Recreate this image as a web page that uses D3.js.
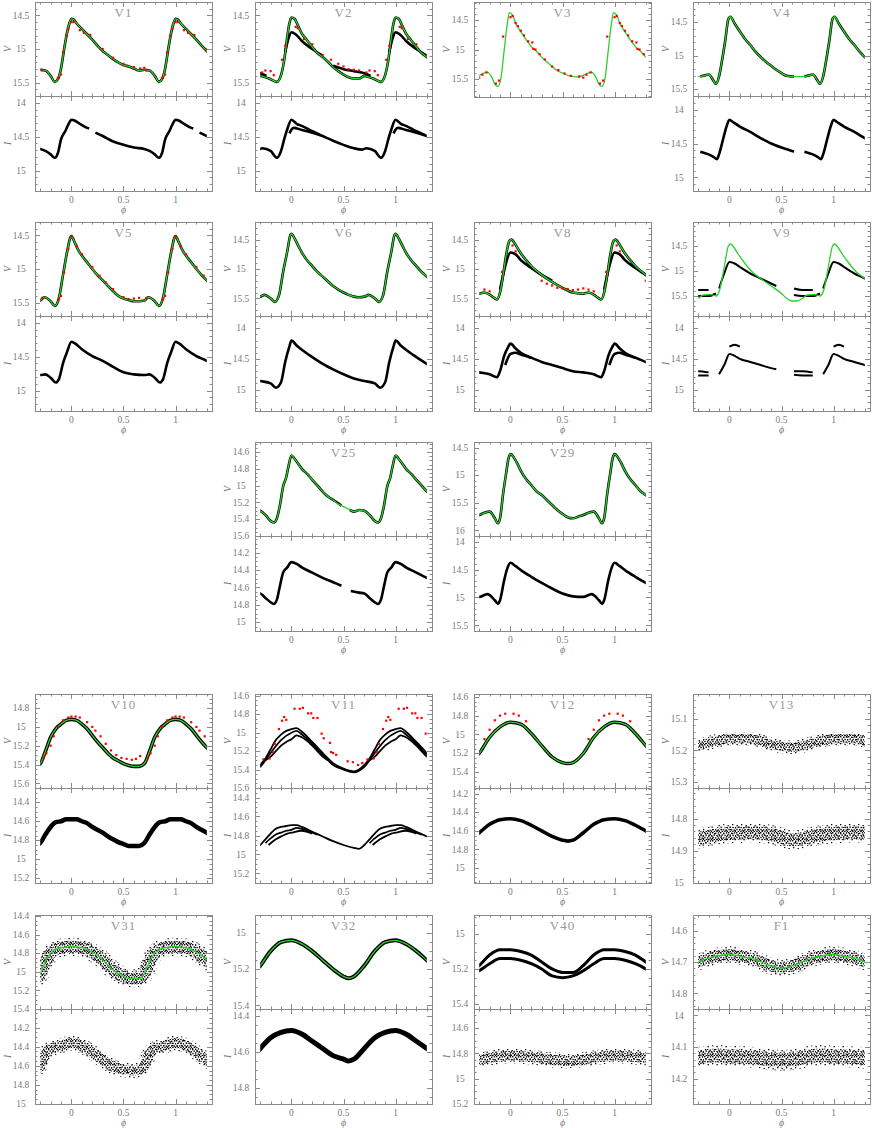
<!DOCTYPE html>
<html>
<head>
<meta charset="utf-8">
<script src="https://d3js.org/d3.v7.min.js"></script>
<style>
  body { margin: 0; background: #fff; }
  text { font-family: "Liberation Serif", "DejaVu Serif", serif; fill: #7a7a7a; }
</style>
</head>
<body>
<div id="chart"></div>
<script>
// ---- light curve data: [phase, mag], one cycle each, null = gap ----
const v1V = [[-0.16,15.49],[-0.13,15.45],[-0.1,15.29],[-0.07,15.0],[-0.05,14.82],[-0.02,14.62],[0,14.55],[0.02,14.56],[0.05,14.62],[0.1,14.7],[0.15,14.78],[0.2,14.86],[0.25,14.95],[0.3,15.03],[0.35,15.09],[0.4,15.15],[0.45,15.2],[0.5,15.24],[0.55,15.26],[0.6,15.29],[0.65,15.32],[0.7,15.31],[0.75,15.32],[0.8,15.4]];
const v1Red = [[-0.28,15.32],[-0.13,15.43],[-0.1,15.38],[-0.08,15.05],[-0.05,14.8],[-0.03,14.7],[0,14.6],[0.02,14.6],[0.08,14.72],[0.12,14.76],[0.18,14.79],[0.3,15.0],[0.4,15.13],[0.5,15.22],[0.6,15.27],[0.66,15.29],[0.7,15.28]];
const v1I = [[-0.16,14.81],[-0.13,14.74],[-0.1,14.54],[-0.06,14.42],[-0.03,14.32],[0,14.25],[0.03,14.26],[0.08,14.31],[0.15,14.37],[0.17,14.38],[0.2,null],[0.23,14.44],[0.3,14.49],[0.4,14.57],[0.5,14.62],[0.6,14.66],[0.7,14.68],[0.75,14.71],[0.8,14.76]];

const v2V = [[-0.14,15.49],[-0.1,15.39],[-0.07,15.17],[-0.04,14.82],[-0.02,14.62],[0,14.53],[0.03,14.55],[0.06,14.64],[0.1,14.77],[0.15,14.87],[0.2,14.97],[0.25,15.06],[0.3,15.12],[0.35,15.19],[0.4,15.27],[0.45,15.33],[0.5,15.38],[0.55,15.42],[0.6,15.44],[0.65,15.44],[0.7,15.4],[0.75,15.42],[0.8,15.45]];
const v2V2 = [[-0.06,15.05],[-0.03,14.85],[0,14.75],[0.04,14.78],[0.1,14.88],[0.2,15.0],[0.3,15.1],[0.35,null],[0.4,15.25],[0.5,15.3],[0.6,15.33],[0.7,15.36],[0.76,15.4],[0.85,null]];
const v2Red = [[-0.28,15.35],[-0.25,15.32],[-0.2,15.33],[-0.17,15.39],[-0.09,15.16],[-0.06,14.95],[0.04,14.67],[0.06,14.69],[0.12,14.85],[0.2,14.93],[0.3,15.09],[0.38,15.16],[0.45,15.22],[0.5,15.26],[0.55,15.3],[0.6,15.31],[0.65,15.32]];
const v2I = [[-0.14,14.81],[-0.1,14.71],[-0.07,14.54],[-0.04,14.39],[0,14.25],[0.05,14.31],[0.1,14.34],[0.2,14.42],[0.3,14.49],[0.4,14.56],[0.5,14.62],[0.6,14.67],[0.68,14.69],[0.72,14.67],[0.8,14.71]];
const v2I2 = [[-0.02,14.45],[0.02,14.37],[0.1,14.4],[0.2,14.44],[0.28,14.48],[0.32,null]];

const v3V = [[-0.12,15.63],[-0.09,15.47],[-0.06,15.01],[-0.03,14.56],[-0.01,14.37],[0.02,14.41],[0.05,14.55],[0.1,14.7],[0.15,14.83],[0.2,14.95],[0.25,15.03],[0.3,15.13],[0.35,15.21],[0.4,15.29],[0.45,15.36],[0.5,15.4],[0.55,15.44],[0.6,15.46],[0.65,15.47],[0.7,15.44],[0.75,15.4],[0.78,15.39],[0.82,15.47],[0.85,15.59]];
const v3Red = [[-0.3,15.48],[-0.27,15.43],[-0.23,15.39],[-0.14,15.58],[-0.11,15.53],[-0.07,14.78],[0,14.45],[0.02,14.43],[0.05,14.55],[0.07,14.6],[0.1,14.68],[0.13,14.76],[0.17,14.86],[0.21,14.88],[0.22,14.99],[0.24,15.0],[0.28,15.08],[0.33,15.17],[0.4,15.29],[0.46,15.35],[0.52,15.41],[0.58,15.45],[0.66,15.46]];

const v4V = [[-0.13,15.42],[-0.1,15.31],[-0.07,15.06],[-0.04,14.77],[-0.01,14.45],[0.01,14.42],[0.05,14.52],[0.1,14.64],[0.15,14.75],[0.2,14.84],[0.25,14.94],[0.3,15.02],[0.35,15.09],[0.4,15.15],[0.45,15.21],[0.5,15.26],[0.55,15.3],[0.6,15.31],[0.62,15.31],[0.65,null],[0.72,15.31],[0.75,15.3],[0.8,15.28],[0.85,15.38]];
const v4I = [[-0.12,14.73],[-0.1,14.66],[-0.06,14.43],[-0.03,14.26],[0,14.15],[0.03,14.18],[0.1,14.25],[0.2,14.33],[0.3,14.42],[0.4,14.5],[0.5,14.56],[0.6,14.61],[0.62,14.62],[0.67,null],[0.72,14.62],[0.8,14.66],[0.85,14.7]];

const v5V = [[-0.16,15.55],[-0.12,15.43],[-0.08,15.08],[-0.04,14.73],[-0.01,14.53],[0,14.51],[0.03,14.6],[0.07,14.73],[0.1,14.8],[0.15,14.9],[0.2,15.0],[0.25,15.09],[0.3,15.17],[0.35,15.25],[0.4,15.33],[0.45,15.4],[0.5,15.44],[0.55,15.46],[0.6,15.48],[0.65,15.48],[0.7,15.47],[0.74,15.42],[0.8,15.48]];
const v5Red = [[-0.28,15.43],[-0.12,15.45],[-0.1,15.4],[-0.07,15.05],[-0.03,14.7],[0,14.52],[0.05,14.66],[0.1,14.78],[0.2,14.97],[0.27,15.1],[0.33,15.2],[0.4,15.3],[0.5,15.42],[0.55,15.45],[0.6,15.44],[0.65,15.43]];
const v5I = [[-0.15,14.88],[-0.12,14.83],[-0.08,14.59],[-0.04,14.42],[0,14.28],[0.03,14.3],[0.1,14.39],[0.2,14.49],[0.3,14.56],[0.4,14.65],[0.5,14.73],[0.6,14.76],[0.7,14.77],[0.75,14.76],[0.8,14.81]];

const v6V = [[-0.16,15.56],[-0.12,15.45],[-0.08,15.05],[-0.04,14.7],[-0.01,14.42],[0,14.4],[0.03,14.48],[0.07,14.62],[0.1,14.72],[0.15,14.85],[0.2,14.95],[0.25,15.05],[0.3,15.13],[0.35,15.21],[0.4,15.29],[0.45,15.35],[0.5,15.4],[0.55,15.44],[0.6,15.47],[0.65,15.48],[0.7,15.47],[0.74,15.44],[0.8,15.5]];
const v6I = [[-0.15,14.97],[-0.1,14.88],[-0.06,14.55],[-0.02,14.3],[0,14.2],[0.05,14.28],[0.1,14.35],[0.2,14.47],[0.3,14.58],[0.4,14.67],[0.5,14.75],[0.6,14.82],[0.7,14.86],[0.8,14.9]];

const v8V = [[-0.13,15.52],[-0.1,15.4],[-0.07,15.1],[-0.04,14.75],[-0.01,14.52],[0.01,14.5],[0.04,14.56],[0.08,14.68],[0.15,14.85],[0.2,14.95],[0.3,15.1],[0.4,15.22],[0.5,15.32],[0.6,15.4],[0.7,15.42],[0.75,15.4],[0.82,15.46]];
const v8V2 = [[-0.1,15.35],[-0.05,14.95],[0,14.72],[0.05,14.75],[0.1,14.85],[0.2,14.98],[0.3,15.1],[0.4,15.2],[0.45,null]];
const v8Red = [[-0.08,15.05],[0.02,14.6],[0.05,14.7],[0.3,15.2],[0.35,15.25],[0.4,15.28],[0.45,15.32],[0.5,15.33],[0.55,15.34],[0.6,15.36],[0.65,15.35],[0.7,15.33],[0.75,15.35],[0.8,15.38]];
const v8I = [[-0.13,14.8],[-0.1,14.7],[-0.06,14.45],[-0.02,14.3],[0,14.25],[0.05,14.33],[0.1,14.4],[0.2,14.48],[0.3,14.55],[0.4,14.6],[0.5,14.65],[0.6,14.7],[0.7,14.72],[0.8,14.75]];
const v8I2 = [[-0.05,14.6],[0,14.42],[0.05,14.4],[0.1,14.43],[0.2,14.48],[0.25,null]];

const v9Fit = [[-0.13,15.5],[-0.1,15.42],[-0.07,15.15],[-0.04,14.8],[-0.01,14.5],[0.01,14.46],[0.04,14.52],[0.08,14.65],[0.15,14.85],[0.2,14.98],[0.3,15.15],[0.4,15.3],[0.5,15.45],[0.55,15.55],[0.6,15.6],[0.65,15.6],[0.7,15.55],[0.75,15.48],[0.82,15.47]];
const v9V = [[-0.1,15.35],[-0.05,15.05],[0,14.82],[0.05,14.85],[0.1,14.92],[0.2,15.05],[0.3,15.15],[0.4,15.25],[0.45,15.3],[0.5,null],[0.62,15.35],[0.7,15.38],[0.8,15.38],[0.86,null]];
const v9V2 = [[0.62,15.48],[0.7,15.5],[0.8,15.5],[0.87,15.45],[0.9,null]];
const v9I = [[-0.1,14.75],[-0.05,14.6],[0,14.42],[0.05,14.45],[0.1,14.5],[0.2,14.55],[0.3,14.6],[0.4,14.65],[0.45,14.67],[0.5,null],[0.62,14.7],[0.7,14.7],[0.8,14.72],[0.86,null]];
const v9I2 = [[0,14.3],[0.05,14.27],[0.1,14.3],[0.14,null],[0.62,14.76],[0.7,14.77],[0.8,14.77],[0.86,null]];

const v25Fit = [[-0.17,15.44],[-0.14,15.39],[-0.11,15.23],[-0.08,15.01],[-0.05,14.9],[-0.03,14.78],[0,14.64],[0.03,14.68],[0.06,14.73],[0.1,14.8],[0.15,14.86],[0.2,14.93],[0.25,15.0],[0.3,15.07],[0.35,15.13],[0.4,15.17],[0.45,15.22],[0.5,15.25],[0.55,15.28],[0.6,15.31],[0.65,15.29],[0.7,15.3],[0.75,15.35],[0.8,15.42]];
const v25V = [[-0.17,15.44],[-0.14,15.39],[-0.11,15.23],[-0.08,15.01],[-0.05,14.9],[-0.03,14.78],[0,14.64],[0.03,14.68],[0.06,14.73],[0.1,14.8],[0.15,14.86],[0.2,14.93],[0.25,15.0],[0.3,15.07],[0.35,15.13],[0.4,15.17],[0.45,15.21],[0.48,15.24],[0.52,null],[0.56,15.29],[0.6,15.31],[0.65,15.29],[0.7,15.3],[0.75,15.35],[0.8,15.42]];
const v25I = [[-0.17,14.79],[-0.14,14.74],[-0.11,14.58],[-0.08,14.43],[-0.04,14.37],[0,14.31],[0.05,14.33],[0.1,14.37],[0.2,14.43],[0.3,14.49],[0.4,14.54],[0.48,14.58],[0.52,null],[0.57,14.64],[0.65,14.66],[0.7,14.67],[0.75,14.72],[0.8,14.77]];

const v29V = [[-0.12,15.87],[-0.1,15.78],[-0.07,15.33],[-0.04,14.95],[-0.02,14.71],[0,14.62],[0.03,14.67],[0.06,14.77],[0.1,14.92],[0.15,15.07],[0.2,15.18],[0.25,15.29],[0.3,15.36],[0.35,15.45],[0.4,15.54],[0.45,15.63],[0.5,15.7],[0.55,15.76],[0.6,15.78],[0.65,15.75],[0.7,15.72],[0.75,15.68],[0.8,15.66],[0.85,15.78]];
const v29I = [[-0.12,15.11],[-0.1,15.05],[-0.06,14.69],[-0.03,14.48],[0,14.38],[0.05,14.44],[0.1,14.51],[0.2,14.63],[0.3,14.74],[0.4,14.84],[0.5,14.93],[0.6,14.98],[0.7,14.99],[0.78,14.94],[0.85,15.05]];

const v10V = [[0,14.92],[0.05,14.93],[0.1,14.97],[0.15,15.02],[0.2,15.09],[0.25,15.16],[0.3,15.22],[0.35,15.28],[0.4,15.33],[0.45,15.36],[0.5,15.39],[0.55,15.41],[0.6,15.42],[0.65,15.42],[0.7,15.39],[0.75,15.26],[0.8,15.11],[0.85,15.02],[0.9,14.97],[0.95,14.93]];
const v10Red = [[-0.27,15.33],[-0.24,15.28],[-0.2,15.2],[-0.17,15.1],[-0.13,15.0],[-0.08,14.93],[-0.03,14.9],[0,14.89],[0.04,14.89],[0.08,14.9],[0.15,14.95],[0.2,15.0],[0.23,15.04],[0.28,15.1],[0.33,15.18],[0.38,15.25],[0.43,15.3],[0.48,15.33],[0.53,15.34],[0.58,15.35],[0.62,15.34],[0.66,15.31]];
const v10I = [[0,14.58],[0.05,14.58],[0.1,14.6],[0.15,14.62],[0.2,14.66],[0.25,14.69],[0.3,14.72],[0.35,14.76],[0.4,14.79],[0.45,14.82],[0.5,14.84],[0.55,14.86],[0.6,14.86],[0.65,14.86],[0.7,14.83],[0.75,14.74],[0.8,14.66],[0.85,14.61],[0.9,14.6],[0.95,14.58]];

const v11V = [[0,14.96],[0.05,14.95],[0.1,14.99],[0.2,15.1],[0.3,15.22],[0.4,15.33],[0.5,15.39],[0.6,15.42],[0.65,15.4],[0.7,15.35],[0.75,15.28],[0.8,15.18],[0.85,15.08],[0.9,15.02],[0.95,14.98]];
const v11V2 = [[0,15.0],[0.05,14.98],[0.1,15.02],[0.2,15.12],[0.3,15.24],[0.4,15.35],[0.5,15.4],[0.6,15.43],[0.7,15.37],[0.8,15.22],[0.9,15.08]];
const v11V3 = [[0,15.07],[0.05,15.03],[0.1,15.05],[0.2,15.14],[0.3,15.26],[0.35,15.3],[0.4,null],[0.75,15.3],[0.8,15.26],[0.85,15.2],[0.9,15.14],[0.95,15.1]];
const v11Red = [[0.03,14.74],[0.08,14.74],[0.11,14.73],[0.16,14.79],[0.19,14.79],[0.21,14.84],[0.25,14.84],[0.29,15.01],[0.31,15.06],[0.37,15.11],[0.38,15.21],[0.4,15.22],[0.43,15.24],[0.54,15.31],[0.59,15.32],[0.64,15.35],[0.68,15.33],[0.73,15.29],[0.79,15.28],[0.82,15.21],[0.84,15.12],[0.88,14.96],[0.91,14.87],[0.93,14.83],[0.95,14.86]];
const v11I = [[0,14.69],[0.05,14.69],[0.1,14.71],[0.2,14.76],[0.3,14.81],[0.4,14.86],[0.5,14.9],[0.6,14.93],[0.65,14.94],[0.7,14.9],[0.75,14.84],[0.8,14.78],[0.85,14.73],[0.9,14.71],[0.95,14.7]];
const v11I2 = [[0,14.74],[0.05,14.72],[0.1,14.73],[0.2,14.77],[0.25,14.79],[0.3,null],[0.75,14.88],[0.8,14.83],[0.85,14.79],[0.9,14.77],[0.95,14.75]];
const v11I3 = [[0,14.77],[0.1,14.75],[0.2,14.78],[0.25,null],[0.78,14.9],[0.85,14.84],[0.92,14.8],[0.96,14.78]];

const v12V = [[0,14.87],[0.1,14.89],[0.2,14.99],[0.3,15.12],[0.4,15.24],[0.5,15.3],[0.55,15.31],[0.6,15.3],[0.7,15.2],[0.8,15.03],[0.9,14.92]];
const v12Red = [[-0.25,15.05],[-0.2,14.95],[-0.15,14.85],[-0.1,14.8],[-0.05,14.78],[0.03,14.78],[0.08,14.8],[0.15,14.86]];
const v12I = [[0,14.47],[0.1,14.49],[0.2,14.54],[0.3,14.6],[0.4,14.66],[0.5,14.7],[0.55,14.71],[0.6,14.7],[0.7,14.62],[0.8,14.53],[0.9,14.48]];

const v13V = [[0,15.163],[0.1,15.163],[0.2,15.163],[0.3,15.17],[0.4,15.181],[0.5,15.187],[0.6,15.19],[0.7,15.186],[0.8,15.176],[0.9,15.168]];
const v13I = [[0,14.846],[0.1,14.845],[0.2,14.843],[0.3,14.845],[0.4,14.85],[0.5,14.858],[0.6,14.866],[0.7,14.862],[0.8,14.855],[0.9,14.85]];

const v31V = [[0,14.73],[0.1,14.74],[0.2,14.79],[0.3,14.87],[0.35,14.93],[0.4,14.98],[0.45,15.02],[0.5,15.05],[0.55,15.07],[0.6,15.07],[0.65,15.07],[0.7,15.02],[0.75,14.89],[0.8,14.8],[0.85,14.76],[0.9,14.74]];
const v31I = [[0,14.36],[0.1,14.39],[0.2,14.46],[0.3,14.54],[0.4,14.61],[0.5,14.64],[0.6,14.65],[0.65,14.64],[0.7,14.6],[0.75,14.47],[0.8,14.42],[0.9,14.39]];

const v32V = [[0,15.04],[0.1,15.06],[0.2,15.1],[0.3,15.15],[0.4,15.2],[0.5,15.24],[0.55,15.25],[0.6,15.24],[0.7,15.18],[0.8,15.1],[0.9,15.05]];
const v32I = [[0,14.48],[0.1,14.5],[0.2,14.54],[0.3,14.58],[0.4,14.62],[0.5,14.64],[0.55,14.65],[0.6,14.64],[0.7,14.58],[0.8,14.52],[0.9,14.49]];

const v40V = [[0,15.09],[0.1,15.1],[0.2,15.12],[0.3,15.16],[0.4,15.2],[0.5,15.22],[0.6,15.22],[0.7,15.18],[0.8,15.12],[0.9,15.09]];
const v40V2 = [[0,15.14],[0.1,15.15],[0.2,15.17],[0.3,15.2],[0.4,15.24],[0.5,15.25],[0.6,15.24],[0.7,15.21],[0.8,15.17],[0.9,15.14]];
const v40I = [[0,14.82],[0.2,14.83],[0.4,14.85],[0.55,14.86],[0.7,14.85],[0.85,14.83]];

const f1V = [[0,14.676],[0.1,14.681],[0.2,14.688],[0.3,14.699],[0.4,14.713],[0.5,14.72],[0.6,14.713],[0.7,14.7],[0.8,14.688],[0.9,14.68]];
const f1I = [[0,14.13],[0.1,14.13],[0.2,14.132],[0.3,14.135],[0.4,14.14],[0.5,14.142],[0.6,14.14],[0.7,14.134],[0.8,14.128],[0.9,14.127]];

const phiDomain = [-0.35, 1.35];
const phiMajor = [0, 0.5, 1];

// per star: magnitude ranges and tick steps; lw = line width, band = scatter width (px)
const panels = [
  {name:"V1", col:0, row:0, vDom:[14.3,15.7], vStep:[0.5,0.1], iDom:[13.9,15.3], iStep:[0.5,0.1], vBlack:[v1V], vGreen:v1V, vRed:v1Red, iBlack:[v1I]},
  {name:"V2", col:1, row:0, vDom:[14.3,15.7], vStep:[0.5,0.1], iDom:[13.9,15.3], iStep:[0.5,0.1], vBlack:[v2V,v2V2], vGreen:v2V, vRed:v2Red, iBlack:[v2I,v2I2]},
  {name:"V3", col:2, row:0, vDom:[14.19,15.81], vStep:[0.5,0.1], iDom:null, vBlack:[], vGreen:v3V, vRed:v3Red},
  {name:"V4", col:3, row:0, vDom:[14.2,15.6], vStep:[0.5,0.1], iDom:[13.8,15.2], iStep:[0.5,0.1], vBlack:[v4V], vGreen:v4V, iBlack:[v4I]},
  {name:"V5", col:0, row:1, vDom:[14.3,15.7], vStep:[0.5,0.1], iDom:[13.9,15.3], iStep:[0.5,0.1], vBlack:[v5V], vGreen:v5V, vRed:v5Red, iBlack:[v5I]},
  {name:"V6", col:1, row:1, vDom:[14.2,15.8], vStep:[0.5,0.1], iDom:[13.8,15.35], iStep:[0.5,0.1], vBlack:[v6V], vGreen:v6V, iBlack:[v6I]},
  {name:"V8", col:2, row:1, vDom:[14.2,15.8], vStep:[0.5,0.1], iDom:[13.8,15.35], iStep:[0.5,0.1], vBlack:[v8V,v8V2], vGreen:v8V, vRed:v8Red, iBlack:[v8I,v8I2]},
  {name:"V9", col:3, row:1, vDom:[14.02,15.9], vStep:[0.5,0.1], iDom:[13.8,15.35], iStep:[0.5,0.1], vBlack:[v9V,v9V2], vGreen:v9Fit, iBlack:[v9I,v9I2], lw:2},
  {name:"V25", col:1, row:2, vDom:[14.48,15.6], vStep:[0.2,0.05], iDom:[14.01,15.1], iStep:[0.2,0.05], vBlack:[v25V], vGreen:v25Fit, iBlack:[v25I]},
  {name:"V29", col:2, row:2, vDom:[14.4,16.1], vStep:[0.5,0.1], iDom:[13.9,15.6], iStep:[0.5,0.1], vBlack:[v29V], vGreen:v29V, iBlack:[v29I]},
  {name:"V10", col:0, row:3, vDom:[14.65,15.65], vStep:[0.2,0.05], iDom:[14.25,15.25], iStep:[0.2,0.05], vBlack:[v10V], vGreen:v10V, vRed:v10Red, iBlack:[v10I], lw:3.6, ilw:4.5},
  {name:"V11", col:1, row:3, vDom:[14.58,15.6], vStep:[0.2,0.05], iDom:[14.3,15.3], iStep:[0.2,0.05], vBlack:[v11V,v11V2,v11V3], vRed:v11Red, iBlack:[v11I,v11I2,v11I3], lw:1.8},
  {name:"V12", col:2, row:3, vDom:[14.57,15.57], vStep:[0.2,0.05], iDom:[14.14,15.16], iStep:[0.2,0.05], vBlack:[v12V], vGreen:v12V, vRed:v12Red, iBlack:[v12I], lw:3.4, ilw:3.6},
  {name:"V13", col:3, row:3, vDom:[15.02,15.32], vStep:[0.1,0.02], iDom:[14.705,15.0], iStep:[0.1,0.02], vBlack:[v13V], iBlack:[v13I], vBand:9, iBand:13},
  {name:"V31", col:0, row:4, vDom:[14.39,15.4], vStep:[0.2,0.05], iDom:[14.005,15.0], iStep:[0.2,0.05], vBlack:[v31V], vGreen:v31V, iBlack:[v31I], vBand:12, iBand:10},
  {name:"V32", col:1, row:4, vDom:[14.9,15.42], vStep:[0.2,0.05], iDom:[14.36,14.89], iStep:[0.2,0.05], vBlack:[v32V], vGreen:v32V, iBlack:[v32I], lw:4, ilw:5},
  {name:"V40", col:2, row:4, vDom:[14.89,15.43], vStep:[0.2,0.05], iDom:[14.45,15.2], iStep:[0.2,0.05], vBlack:[v40V,v40V2], iBlack:[v40I], lw:3, iBand:10},
  {name:"F1", col:3, row:4, vDom:[14.55,14.85], vStep:[0.1,0.02], iDom:[13.98,14.28], iStep:[0.1,0.02], vBlack:[f1V], vGreen:f1V, iBlack:[f1I], vBand:11, iBand:14}
];

// ---- layout ----
const width = 872, height = 1128;
const colX = [35, 255, 474, 693], rowY = [2, 222, 442, 694, 915];
const W = 177, HV = 94, HI = 95;
const frameColor = "#8a8a8a";

const svg = d3.select("#chart").append("svg")
  .attr("width", width).attr("height", height);

const defs = svg.append("defs");
// dotted fills used for the noisy photometry bands
const makeSpeckle = (id, size, dots, r) => {
  const pat = defs.append("pattern").attr("id", id)
    .attr("patternUnits", "userSpaceOnUse").attr("width", size).attr("height", size);
  dots.forEach(p => pat.append("rect").attr("x", p[0]).attr("y", p[1])
    .attr("width", r).attr("height", r).attr("fill", "#000"));
};
makeSpeckle("speckleHi", 8, [[0,0],[3,0.6],[5.8,0.2],[1.5,2.4],[4.4,2.8],[6.9,3.1],[0.3,4.8],[2.9,5.2],[5.6,5.4],[1.6,7],[4.2,6.9],[6.8,6.6]], 1.4);
makeSpeckle("speckleLo", 9, [[1,1],[5.5,2],[3,5],[7.5,6],[0.5,7.5],[6,8.2]], 1.3);

// repeat one cycle over the plotted phase range
const fold = arr => {
  const out = [];
  for (const k of [-2, -1, 0, 1, 2]) {
    for (const d of arr) {
      const p = d[0] + k;
      if (p >= -0.45 && p <= 1.45) out.push([p, d[1]]);
    }
  }
  return out.sort((a, b) => a[0] - b[0]);
};

const tickVals = (dom, step) => {
  const lo = Math.min(dom[0], dom[1]), hi = Math.max(dom[0], dom[1]);
  const out = [];
  for (let k = Math.ceil(lo / step - 1e-6); k * step <= hi + 1e-6; k++) out.push(+(k * step).toFixed(4));
  return out;
};

let clipN = 0;
function drawSub(x0, y0, h, dom, step, black, green, red, band, lw, showX, label) {
  const x = d3.scaleLinear().domain(phiDomain).range([x0, x0 + W]);
  const y = d3.scaleLinear().domain(dom).range([y0, y0 + h]);
  const id = "clip" + (clipN++);
  defs.append("clipPath").attr("id", id).append("rect")
    .attr("x", x(-0.3)).attr("y", y0).attr("width", x(1.3) - x(-0.3)).attr("height", h);
  const g = svg.append("g").attr("clip-path", `url(#${id})`);
  const line = d3.line().defined(d => d[1] != null)
    .x(d => x(d[0])).y(d => y(d[1])).curve(d3.curveMonotoneX);

  (black || []).forEach(s => {
    const d = line(fold(s));
    if (band) {
      g.append("path").attr("d", d).attr("fill", "none")
        .attr("stroke", "url(#speckleLo)").attr("stroke-width", band * 1.5);
      g.append("path").attr("d", d).attr("fill", "none")
        .attr("stroke", "url(#speckleHi)").attr("stroke-width", band);
    } else {
      g.append("path").attr("d", d).attr("fill", "none")
        .attr("stroke", "#000").attr("stroke-width", lw || 2.6)
        .attr("stroke-linejoin", "round");
    }
  });
  if (green) {
    g.append("path").attr("d", line(fold(green.filter(d => d[1] != null))))
      .attr("fill", "none").attr("stroke", "#2bd02b").attr("stroke-width", 1.3);
  }
  if (red) {
    g.selectAll("rect.red").data(fold(red).filter(d => d[0] >= -0.3 && d[0] <= 1.3))
      .join("rect").attr("class", "red")
      .attr("x", d => x(d[0]) - 1.1).attr("y", d => y(d[1]) - 1.1)
      .attr("width", 2.2).attr("height", 2.2).attr("fill", "#f00");
  }

  // frame
  svg.append("rect").attr("x", x0 + 0.5).attr("y", y0 + 0.5).attr("width", W).attr("height", h)
    .attr("fill", "none").attr("stroke", frameColor);

  const ax = svg.append("g").attr("stroke", frameColor).attr("stroke-width", 1);
  // phase ticks, top and bottom, inward
  d3.range(-3, 14).map(k => k / 10).forEach(p => {
    const len = phiMajor.some(m => Math.abs(m - p) < 1e-6) ? 5 : 2.5;
    const xx = Math.round(x(p)) + 0.5;
    ax.append("line").attr("x1", xx).attr("x2", xx).attr("y1", y0).attr("y2", y0 + len);
    ax.append("line").attr("x1", xx).attr("x2", xx).attr("y1", y0 + h).attr("y2", y0 + h - len);
  });
  // magnitude ticks, left and right
  const majors = tickVals(dom, step[0]);
  tickVals(dom, step[1]).forEach(m => {
    const isMaj = majors.some(v => Math.abs(v - m) < 1e-6);
    const len = isMaj ? 5 : 2.5;
    const yy = Math.round(y(m)) + 0.5;
    ax.append("line").attr("x1", x0).attr("x2", x0 + len).attr("y1", yy).attr("y2", yy);
    ax.append("line").attr("x1", x0 + W).attr("x2", x0 + W - len).attr("y1", yy).attr("y2", yy);
  });
  majors.forEach(m => {
    svg.append("text").attr("x", x0 - 14).attr("y", y(m) + 3.2)
      .attr("text-anchor", "middle").attr("font-size", 9.5).text(String(m));
  });
  svg.append("text")
    .attr("transform", `translate(${x0 - 24},${y0 + h / 2}) rotate(-90)`)
    .attr("text-anchor", "middle").attr("font-size", 10.5).attr("font-style", "italic")
    .text(label);

  if (showX) {
    phiMajor.forEach(p => {
      svg.append("text").attr("x", x(p)).attr("y", y0 + h + 12)
        .attr("text-anchor", "middle").attr("font-size", 9.5).text(String(p));
    });
    svg.append("text").attr("x", x0 + W / 2).attr("y", y0 + h + 21.5)
      .attr("text-anchor", "middle").attr("font-size", 10).attr("font-style", "italic").text("\u03d5");
  }
}

panels.forEach(p => {
  const x0 = colX[p.col], y0 = rowY[p.row];
  drawSub(x0, y0, HV + (p.iDom ? 0 : 1), p.vDom, p.vStep, p.vBlack, p.vGreen, p.vRed, p.vBand, p.lw, false, "V");
  if (p.iDom) drawSub(x0, y0 + HV, HI, p.iDom, p.iStep, p.iBlack, null, null, p.iBand, p.ilw || p.lw, true, "I");
  svg.append("text").attr("x", x0 + W / 2).attr("y", y0 + 15)
    .attr("text-anchor", "middle").attr("font-size", 13).attr("letter-spacing", 1)
    .style("fill", "#999").text(p.name);
});
</script>
</body>
</html>
